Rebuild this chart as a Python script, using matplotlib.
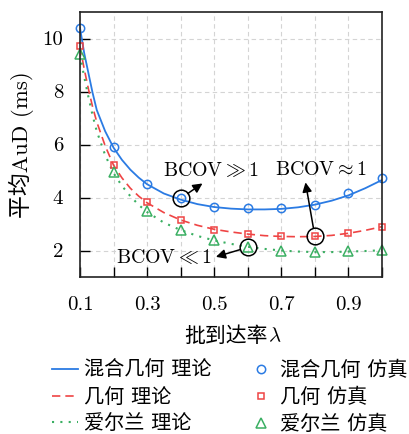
import numpy as np
import matplotlib as mpl
import matplotlib.pyplot as plt

# simulated points
lam = [0.1, 0.2, 0.3, 0.4, 0.5, 0.6, 0.7, 0.8, 0.9, 1.0]
sim_mixed = [10.38, 5.89, 4.50, 3.97, 3.63, 3.61, 3.61, 3.73, 4.16, 4.74]
sim_geo = [9.70, 5.24, 3.82, 3.14, 2.79, 2.63, 2.53, 2.53, 2.65, 2.90]
sim_erlang = [9.41, 4.95, 3.48, 2.78, 2.40, 2.12, 2.00, 1.94, 1.97, 2.02]

# theory curves
lam_th = [0.1, 0.1125, 0.125, 0.1375, 0.15, 0.175, 0.2, 0.225, 0.25, 0.275, 0.3,
          0.35, 0.4, 0.45, 0.5, 0.55, 0.6, 0.65, 0.7, 0.75, 0.8, 0.85, 0.9, 0.95, 1.0]
th_mixed = [10.4, 9.45, 8.7, 7.95, 7.3, 6.5, 5.88, 5.42, 5.05, 4.75, 4.5,
            4.15, 3.92, 3.75, 3.64, 3.58, 3.55, 3.55, 3.57, 3.63, 3.73, 3.88, 4.08, 4.35, 4.66]
th_geo = [9.7, 8.85, 8.1, 7.42, 6.85, 5.95, 5.22, 4.74, 4.35, 4.05, 3.8,
          3.43, 3.15, 2.95, 2.8, 2.7, 2.62, 2.56, 2.53, 2.52, 2.53, 2.57, 2.65, 2.76, 2.9]
th_erlang = [9.4, 8.55, 7.8, 7.1, 6.5, 5.6, 4.92, 4.44, 4.05, 3.72, 3.45,
             3.05, 2.77, 2.55, 2.38, 2.25, 2.14, 2.06, 2.0, 1.96, 1.94, 1.94, 1.96, 1.98, 2.01]

blue = '#2b7be3'
red = '#ef4444'
green = '#3aaf62'

mpl.rcParams['font.family'] = ['cmr10', 'Noto Sans CJK SC']
mpl.rcParams['mathtext.fontset'] = 'cm'
mpl.rcParams['axes.unicode_minus'] = False
mpl.rcParams['font.size'] = 15

fig = plt.figure(figsize=(4.1, 4.34), dpi=100)
ax = fig.add_axes([80 / 410, 1 - 277 / 434, 302 / 410, 265 / 434])

ax.plot(lam_th, th_mixed, '-', color=blue, lw=1.3, label='混合几何 理论')
ax.plot(lam_th, th_geo, '--', color=red, lw=1.2, label='几何 理论', dashes=(5, 3))
ax.plot(lam_th, th_erlang, ':', color=green, lw=1.5, label='爱尔兰 理论', dashes=(1, 3))
ax.plot(lam, sim_mixed, 'o', color=blue, mfc='none', ms=6, mew=1.1,
        label='混合几何 仿真', clip_on=False)
ax.plot(lam, sim_geo, 's', color=red, mfc='none', ms=5, mew=1.1,
        label='几何 仿真', clip_on=False)
ax.plot(lam, sim_erlang, '^', color=green, mfc='none', ms=6.5, mew=1.1,
        label='爱尔兰 仿真', clip_on=False)

# highlighted points
ax.plot([0.4, 0.8, 0.6], [sim_mixed[3], sim_geo[7], sim_erlang[5]], 'o',
        mfc='none', mec='black', ms=12, mew=1.1)
arrow = dict(arrowstyle='-|>', color='black', lw=1.1, shrinkA=6, shrinkB=0,
             mutation_scale=14)
ax.annotate('', xy=(0.465, 4.53), xytext=(0.4, sim_mixed[3]), arrowprops=arrow)
ax.annotate('', xy=(0.772, 4.57), xytext=(0.8, sim_geo[7]), arrowprops=arrow)
ax.annotate('', xy=(0.505, 1.76), xytext=(0.6, sim_erlang[5]), arrowprops=arrow)
ax.text(0.49, 5.03, r'$\mathrm{BCOV}\gg1$', fontsize=14.3, ha='center', va='center')
ax.text(0.817, 5.03, r'$\mathrm{BCOV}\approx1$', fontsize=14.3, ha='center', va='center')
ax.text(0.35, 1.74, r'$\mathrm{BCOV}\ll1$', fontsize=14.3, ha='center', va='center')

ax.set_xlim(0.1, 1.0)
ax.set_ylim(1, 11)
ax.set_xticks(np.arange(0.1, 1.01, 0.1))
ax.set_xticklabels(['0.1', '', '0.3', '', '0.5', '', '0.7', '', '0.9', ''])
ax.set_yticks([2, 4, 6, 8, 10])
ax.tick_params(direction='in', length=7, width=1, pad=12, top=False, right=False,
               labelsize=15)
ax.tick_params(axis='x', pad=14)
ax.grid(True, ls=(0, (4, 3)), color='#d4d4d4', lw=0.8)
for s in ax.spines.values():
    s.set_linewidth(1.2)
    s.set_color('#222222')

# x label: CJK part and the math lambda drawn side by side
fig.text(268 / 410, 1 - 336 / 434, '批到达率', fontsize=15, ha='right', va='center')
fig.text(268 / 410, 1 - 336 / 434, r'$\lambda$', fontsize=15, ha='left', va='center')
ax.set_ylabel('平均AuD (ms)', fontsize=16.5, labelpad=6)

fig.legend(loc='upper left', bbox_to_anchor=(52 / 410, 0.169), ncol=2, frameon=False,
           fontsize=14.5, handlelength=1.3, handletextpad=0.3, labelspacing=0.38,
           columnspacing=1.8, borderaxespad=0, borderpad=0)

plt.savefig('out.png', dpi=100)
